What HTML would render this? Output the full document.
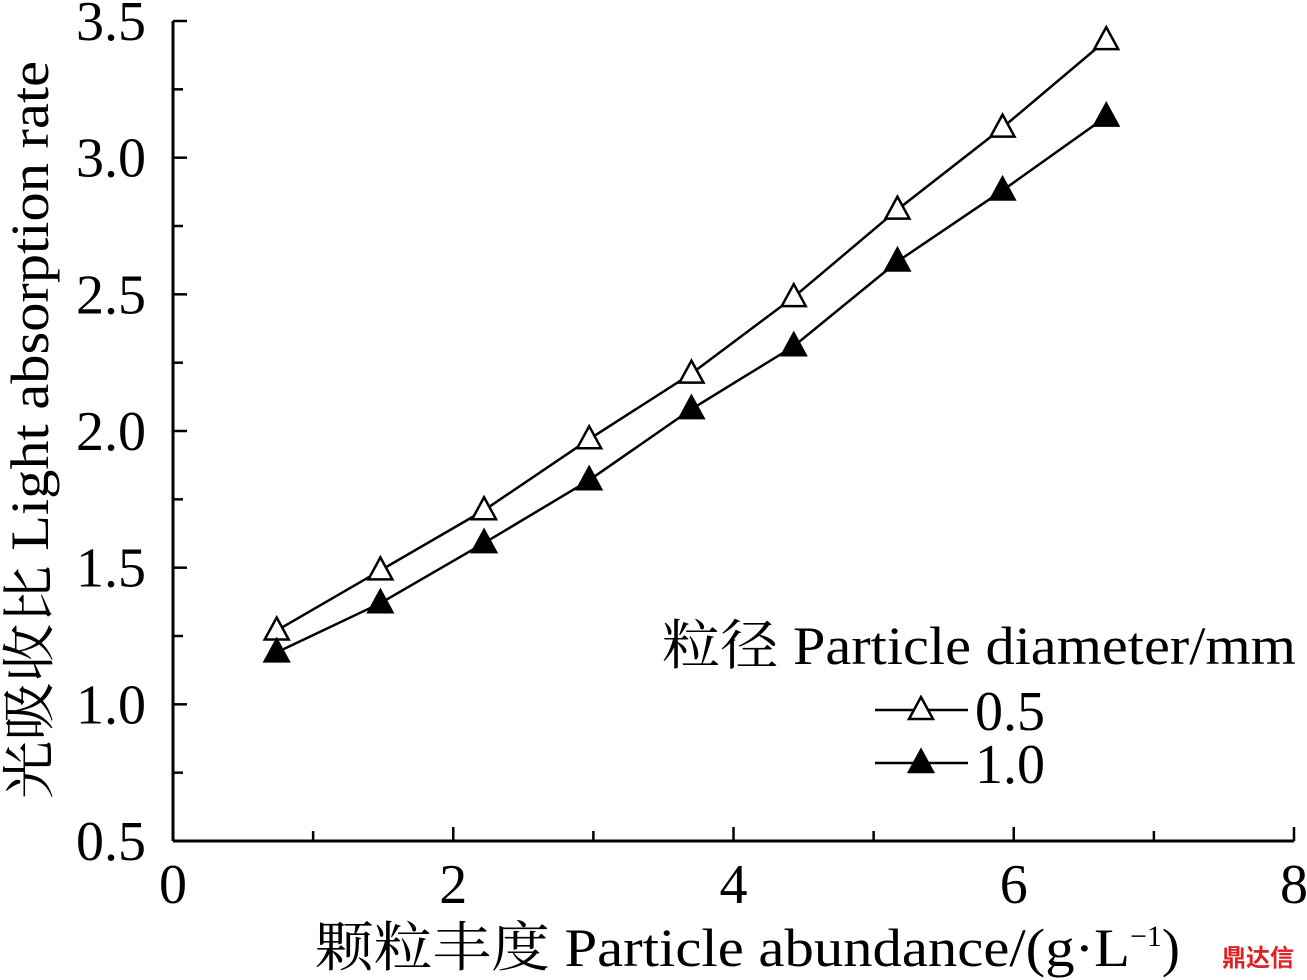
<!DOCTYPE html>
<html><head><meta charset="utf-8"><style>
html,body{margin:0;padding:0;background:#fff;}
svg{display:block;}
text{font-family:"Liberation Serif","Noto Serif CJK SC",serif;fill:#000;}
</style></head><body>
<svg id="chart" width="1307" height="980" viewBox="0 0 1307 980"></svg>
<script>
const xValues=[0.74,1.48,2.22,2.97,3.70,4.43,5.17,5.92,6.66];
const series05=[1.27,1.49,1.71,1.97,2.21,2.49,2.81,3.11,3.43];
const series10=[1.19,1.37,1.59,1.82,2.08,2.31,2.62,2.88,3.15];
const xTicks=[0,2,4,6,8];
const yTicks=[0.5,1.0,1.5,2.0,2.5,3.0,3.5];
const yTickLabels=["0.5","1.0","1.5","2.0","2.5","3.0","3.5"];

const svg=document.getElementById('chart');
const NS='http://www.w3.org/2000/svg';
const X0=173,X1=1294,Y0=841,Y1=21;
const sx=v=>X0+(v-0)/(8-0)*(X1-X0);
const sy=v=>Y0-(v-0.5)/(3.5-0.5)*(Y0-Y1);
function mk(tag,attrs,parent){const e=document.createElementNS(NS,tag);for(const k in attrs)e.setAttribute(k,attrs[k]);(parent||svg).appendChild(e);return e;}

const axes=mk('g',{});


mk('line',{x1:X0,y1:Y0,x2:X1,y2:Y0,stroke:'#000','stroke-width':3},axes);
mk('line',{x1:X0,y1:Y0,x2:X0,y2:Y1,stroke:'#000','stroke-width':3},axes);

for(let v=0;v<=8;v+=1){
  const t=mk('line',{x1:sx(v),y1:Y0,x2:sx(v),y2:Y0-(v%2===0?14:10),stroke:'#000','stroke-width':2.5},axes);
  
  
}
xTicks.forEach(v=>{
  const t=mk('text',{x:sx(v),y:903,'font-size':56,'text-anchor':'middle'});
  t.textContent=v;
  
  
});
for(let v=0.5;v<=3.51;v+=0.25){
  const major=Math.abs(v*2-Math.round(v*2))<1e-6;
  const t=mk('line',{x1:X0,y1:sy(v),x2:X0+(major?14:10),y2:sy(v),stroke:'#000','stroke-width':2.5},axes);
  
  
}
yTicks.forEach((v,i)=>{
  const t=mk('text',{x:146,y:sy(v)+19,'font-size':56,'text-anchor':'end'});
  t.textContent=yTickLabels[i];
  
  
});

function tri(x,y,filled,parent){
  return mk('polygon',{points:`${x},${y-13} ${x-12},${y+9} ${x+12},${y+9}`,fill:filled?'#000':'#fff',stroke:'#000','stroke-width':2.5},parent);
}
function drawSeries(vals,filled,name){
  const g=mk('g',{});
  
  
  mk('polyline',{points:xValues.map((x,i)=>sx(x)+','+sy(vals[i])).join(' '),fill:'none',stroke:'#000','stroke-width':2.5},g);
  xValues.forEach((x,i)=>{
    const p=tri(sx(x),sy(vals[i]),filled,g);
    
    
  });
}
drawSeries(series05,false,'series-0-5');
drawSeries(series10,true,'series-1-0');

const yt=mk('text',{x:0,y:0,'font-size':54,'text-anchor':'middle',textLength:738,lengthAdjust:'spacingAndGlyphs',transform:`translate(48,430) rotate(-90)`});
yt.textContent='光吸收比 Light absorption rate';


const xt=mk('text',{x:315,y:966,'font-size':54});
xt.innerHTML='<tspan textLength="815" lengthAdjust="spacingAndGlyphs">颗粒丰度 Particle abundance/(g·L</tspan><tspan dy="-20" font-size="30">−1</tspan><tspan dy="20">)</tspan>';



const lg=mk('g',{});


const lt=mk('text',{x:662,y:664,'font-size':54,textLength:634,lengthAdjust:'spacingAndGlyphs'},lg);
lt.textContent='粒径 Particle diameter/mm';
[['0.5',false,710],['1.0',true,763]].forEach(([lab,f,y])=>{
  const e=mk('g',{},lg);
  
  
  mk('line',{x1:875,y1:y,x2:968,y2:y,stroke:'#000','stroke-width':2.5},e);
  tri(921,y,f,e);
  const t=mk('text',{x:975,y:y+20,'font-size':56},e);t.textContent=lab;
});
const wm=mk('text',{x:1222,y:966,'font-size':24,style:'fill:#d22;font-weight:bold;font-family:"Noto Sans CJK SC",sans-serif'});
wm.textContent='鼎达信';


</script>
</body></html>
